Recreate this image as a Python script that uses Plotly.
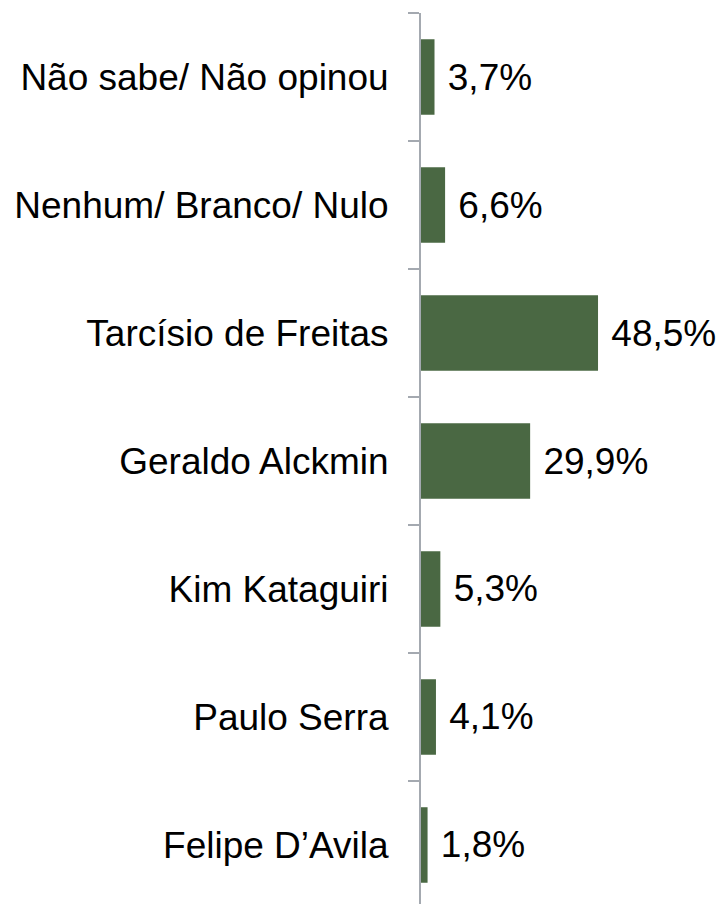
import plotly.graph_objects as go

categories = ["Felipe D’Avila", "Paulo Serra", "Kim Kataguiri", "Geraldo Alckmin",
              "Tarcísio de Freitas", "Nenhum/ Branco/ Nulo", "Não sabe/ Não opinou"]
values = [1.8, 4.1, 5.3, 29.9, 48.5, 6.6, 3.7]
labels = ["\u00a0" + f"{v:.1f}%".replace(".", ",") for v in values]

fig = go.Figure(go.Bar(
    x=values, y=categories, orientation="h",
    marker=dict(color="#4a6843", line=dict(width=0)),
    width=0.59,
    text=labels, textposition="outside", constraintext="none", cliponaxis=False,
    textfont=dict(family="Liberation Sans, Arial", size=37, color="#000000"),
))

fig.update_layout(
    width=724, height=904,
    margin=dict(l=421, r=11, t=13, b=0),
    paper_bgcolor="white", plot_bgcolor="white",
    showlegend=False,
    font=dict(family="Liberation Sans, Arial", size=37, color="#000000"),
)
fig.update_xaxes(range=[0, 80], visible=False, showgrid=False)
fig.update_yaxes(
    type="category", range=[-0.461, 6.5],
    showline=True, linecolor="#a4a9b0", linewidth=2,
    ticks="outside", tickson="boundaries", ticklen=11, tickwidth=2, tickcolor="#a4a9b0",
    ticklabelstandoff=23, showgrid=False,
    tickfont=dict(family="Liberation Sans, Arial", size=37, color="#000000"),
)

fig.write_html("out.html", config={"displayModeBar": False},
               post_script="document.body.style.margin='0';document.body.style.overflow='hidden';")
